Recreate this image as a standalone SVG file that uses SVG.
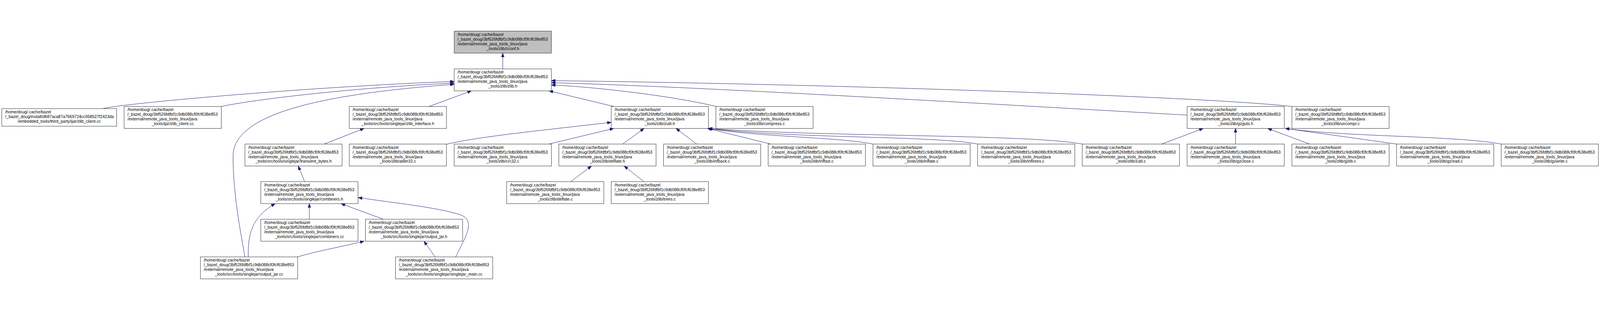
<svg xmlns="http://www.w3.org/2000/svg" width="5053" height="793" viewBox="0 0 5053 793">
<defs>
<marker id="ah" markerUnits="userSpaceOnUse" markerWidth="16" markerHeight="12" refX="13" refY="5" orient="auto">
<path d="M0.5,0.5 L13,5 L0.5,9.5 z" fill="#191970" stroke="#191970" stroke-width="1"/>
</marker>
</defs>
<style>
:root{width:100vw;height:100vh;overflow:hidden}
.e{fill:none;stroke:#191970;stroke-width:1.2;marker-end:url(#ah)}
.n rect{fill:#ffffff;stroke:#000000;stroke-width:1}
.n.root rect{fill:#bfbfbf}
.n text{font-family:"Liberation Sans",Arial,Helvetica,sans-serif;font-size:13px;fill:#000000}
.n text.c{text-anchor:middle}
</style>
<rect x="0" y="0" width="5053" height="793" fill="#ffffff"/>
<g id="edges">
<path class="e" d="M1587.8,124.7 L1587.8,75"/>
<path class="e" d="M324,250.2 C400,232 1000,180 1434.5,164.4"/>
<path class="e" d="M699,243.3 C800,222 1100,185 1434.5,169.4"/>
<path class="e" d="M773.5,718 C760,640 736,520 736,400 C736,270 1000,205 1434.5,173.5"/>
<path class="e" d="M1355,243.3 L1489,194"/>
<path class="e" d="M1938.5,243.3 L1733.6,194"/>
<path class="e" d="M2262,243.3 C2100,205 1850,180 1741,175.5"/>
<path class="e" d="M3749,270.6 C3200,240 2200,180 1741,168.4"/>
<path class="e" d="M4080,243.3 C3800,212 2600,172 1741,161.9"/>
<path class="e" d="M1024,362 L1150,312.6"/>
<path class="e" d="M962,480.7 L942,431.3"/>
<path class="e" d="M784,718 C782,640 800,590 869,550"/>
<path class="e" d="M977,599.3 L977,550"/>
<path class="e" d="M1211,599.3 L1077,550"/>
<path class="e" d="M1438.7,718 C1480,640 1500,600 1450,584 C1380,562 1250,548 1131,531"/>
<path class="e" d="M939.6,718 C1000,700 1060,690 1150,668.6"/>
<path class="e" d="M1374,718 L1339,668.6"/>
<path class="e" d="M1410,362.7 C1500,340 1700,320 1930.4,293.4"/>
<path class="e" d="M1733.6,362 L1938.5,312.6"/>
<path class="e" d="M1966.8,362 L2034,312.6"/>
<path class="e" d="M2200,362 L2135,312.6"/>
<path class="e" d="M2434,362 L2234,312.6"/>
<path class="e" d="M2757,362 C2650,340 2400,340 2237,312.6"/>
<path class="e" d="M3088,362 C2950,335 2500,345 2237,312.6"/>
<path class="e" d="M3418,362 C3250,330 2600,340 2237,312.6"/>
<path class="e" d="M3669,362 L3800,312.6"/>
<path class="e" d="M3902,362 L3902,312.6"/>
<path class="e" d="M4136,362 L4003.4,312.6"/>
<path class="e" d="M4410.6,362 L4059,312.6"/>
<path class="e" d="M4741,362 C4600,335 4250,340 4059,312.6"/>
<path class="e" d="M1802.4,480.7 L1868,431.3"/>
<path class="e" d="M2034,480.7 L1971,431.3"/>
</g>
<g id="n_zconf" class="n root"><rect x="1434.5" y="5.7" width="307" height="69.3"/><text x="1445" y="20.7">/home/doug/.cache/bazel</text><text x="1445" y="35.4">/_bazel_doug/3bf526fdfbf1c9db088cf0fcf638e853</text><text x="1445" y="50.1">/external/remote_java_tools_linux/java</text><text class="c" x="1588" y="64.8">_tools/zlib/zconf.h</text></g>
<g id="n_zlib_h" class="n"><rect x="1434.5" y="124.7" width="307" height="69.3"/><text x="1445" y="139.7">/home/doug/.cache/bazel</text><text x="1445" y="154.4">/_bazel_doug/3bf526fdfbf1c9db088cf0fcf638e853</text><text x="1445" y="169.1">/external/remote_java_tools_linux/java</text><text class="c" x="1588" y="183.8">_tools/zlib/zlib.h</text></g>
<g id="n_install_zlib_client" class="n"><rect x="5.7" y="250.2" width="362.8" height="55.5"/><text x="16.2" y="265.3">/home/doug/.cache/bazel</text><text x="16.2" y="280">/_bazel_doug/install/d687aca87a7669724cc958527f2423da</text><text class="c" x="187.1" y="294.7">/embedded_tools/third_party/ijar/zlib_client.cc</text></g>
<g id="n_ijar_zlib_client" class="n"><rect x="392" y="243.3" width="307" height="69.3"/><text x="402.5" y="258.3">/home/doug/.cache/bazel</text><text x="402.5" y="273">/_bazel_doug/3bf526fdfbf1c9db088cf0fcf638e853</text><text x="402.5" y="287.7">/external/remote_java_tools_linux/java</text><text class="c" x="545.5" y="302.4">_tools/ijar/zlib_client.cc</text></g>
<g id="n_zlib_interface" class="n"><rect x="1103" y="243.3" width="307" height="69.3"/><text x="1113.5" y="258.3">/home/doug/.cache/bazel</text><text x="1113.5" y="273">/_bazel_doug/3bf526fdfbf1c9db088cf0fcf638e853</text><text x="1113.5" y="287.7">/external/remote_java_tools_linux/java</text><text class="c" x="1256.5" y="302.4">_tools/src/tools/singlejar/zlib_interface.h</text></g>
<g id="n_zutil_h" class="n"><rect x="1930.4" y="243.3" width="307" height="69.3"/><text x="1940.9" y="258.3">/home/doug/.cache/bazel</text><text x="1940.9" y="273">/_bazel_doug/3bf526fdfbf1c9db088cf0fcf638e853</text><text x="1940.9" y="287.7">/external/remote_java_tools_linux/java</text><text class="c" x="2083.9" y="302.4">_tools/zlib/zutil.h</text></g>
<g id="n_compress" class="n"><rect x="2261" y="243.3" width="307" height="69.3"/><text x="2271.5" y="258.3">/home/doug/.cache/bazel</text><text x="2271.5" y="273">/_bazel_doug/3bf526fdfbf1c9db088cf0fcf638e853</text><text x="2271.5" y="287.7">/external/remote_java_tools_linux/java</text><text class="c" x="2414.5" y="302.4">_tools/zlib/compress.c</text></g>
<g id="n_gzguts" class="n"><rect x="3749" y="243.3" width="307" height="69.3"/><text x="3759.5" y="258.3">/home/doug/.cache/bazel</text><text x="3759.5" y="273">/_bazel_doug/3bf526fdfbf1c9db088cf0fcf638e853</text><text x="3759.5" y="287.7">/external/remote_java_tools_linux/java</text><text class="c" x="3902.5" y="302.4">_tools/zlib/gzguts.h</text></g>
<g id="n_uncompr" class="n"><rect x="4080" y="243.3" width="307" height="69.3"/><text x="4090.5" y="258.3">/home/doug/.cache/bazel</text><text x="4090.5" y="273">/_bazel_doug/3bf526fdfbf1c9db088cf0fcf638e853</text><text x="4090.5" y="287.7">/external/remote_java_tools_linux/java</text><text class="c" x="4233.5" y="302.4">_tools/zlib/uncompr.c</text></g>
<g id="n_transient_bytes" class="n"><rect x="773.5" y="362" width="307" height="69.3"/><text x="784" y="377">/home/doug/.cache/bazel</text><text x="784" y="391.7">/_bazel_doug/3bf526fdfbf1c9db088cf0fcf638e853</text><text x="784" y="406.4">/external/remote_java_tools_linux/java</text><text class="c" x="927" y="421.1">_tools/src/tools/singlejar/transient_bytes.h</text></g>
<g id="n_adler32" class="n"><rect x="1103" y="362" width="307" height="69.3"/><text x="1113.5" y="377">/home/doug/.cache/bazel</text><text x="1113.5" y="391.7">/_bazel_doug/3bf526fdfbf1c9db088cf0fcf638e853</text><text x="1113.5" y="406.4">/external/remote_java_tools_linux/java</text><text class="c" x="1256.5" y="421.1">_tools/zlib/adler32.c</text></g>
<g id="n_crc32" class="n"><rect x="1434.5" y="362" width="307" height="69.3"/><text x="1445" y="377">/home/doug/.cache/bazel</text><text x="1445" y="391.7">/_bazel_doug/3bf526fdfbf1c9db088cf0fcf638e853</text><text x="1445" y="406.4">/external/remote_java_tools_linux/java</text><text class="c" x="1588" y="421.1">_tools/zlib/crc32.c</text></g>
<g id="n_deflate_h" class="n"><rect x="1765" y="362" width="307" height="69.3"/><text x="1775.5" y="377">/home/doug/.cache/bazel</text><text x="1775.5" y="391.7">/_bazel_doug/3bf526fdfbf1c9db088cf0fcf638e853</text><text x="1775.5" y="406.4">/external/remote_java_tools_linux/java</text><text class="c" x="1918.5" y="421.1">_tools/zlib/deflate.h</text></g>
<g id="n_infback" class="n"><rect x="2095.5" y="362" width="307" height="69.3"/><text x="2106" y="377">/home/doug/.cache/bazel</text><text x="2106" y="391.7">/_bazel_doug/3bf526fdfbf1c9db088cf0fcf638e853</text><text x="2106" y="406.4">/external/remote_java_tools_linux/java</text><text class="c" x="2249" y="421.1">_tools/zlib/infback.c</text></g>
<g id="n_inffast" class="n"><rect x="2426" y="362" width="307" height="69.3"/><text x="2436.5" y="377">/home/doug/.cache/bazel</text><text x="2436.5" y="391.7">/_bazel_doug/3bf526fdfbf1c9db088cf0fcf638e853</text><text x="2436.5" y="406.4">/external/remote_java_tools_linux/java</text><text class="c" x="2579.5" y="421.1">_tools/zlib/inffast.c</text></g>
<g id="n_inflate" class="n"><rect x="2757" y="362" width="307" height="69.3"/><text x="2767.5" y="377">/home/doug/.cache/bazel</text><text x="2767.5" y="391.7">/_bazel_doug/3bf526fdfbf1c9db088cf0fcf638e853</text><text x="2767.5" y="406.4">/external/remote_java_tools_linux/java</text><text class="c" x="2910.5" y="421.1">_tools/zlib/inflate.c</text></g>
<g id="n_inftrees" class="n"><rect x="3087.5" y="362" width="307" height="69.3"/><text x="3098" y="377">/home/doug/.cache/bazel</text><text x="3098" y="391.7">/_bazel_doug/3bf526fdfbf1c9db088cf0fcf638e853</text><text x="3098" y="406.4">/external/remote_java_tools_linux/java</text><text class="c" x="3241" y="421.1">_tools/zlib/inftrees.c</text></g>
<g id="n_zutil_c" class="n"><rect x="3418" y="362" width="307" height="69.3"/><text x="3428.5" y="377">/home/doug/.cache/bazel</text><text x="3428.5" y="391.7">/_bazel_doug/3bf526fdfbf1c9db088cf0fcf638e853</text><text x="3428.5" y="406.4">/external/remote_java_tools_linux/java</text><text class="c" x="3571.5" y="421.1">_tools/zlib/zutil.c</text></g>
<g id="n_gzclose" class="n"><rect x="3749" y="362" width="307" height="69.3"/><text x="3759.5" y="377">/home/doug/.cache/bazel</text><text x="3759.5" y="391.7">/_bazel_doug/3bf526fdfbf1c9db088cf0fcf638e853</text><text x="3759.5" y="406.4">/external/remote_java_tools_linux/java</text><text class="c" x="3902.5" y="421.1">_tools/zlib/gzclose.c</text></g>
<g id="n_gzlib" class="n"><rect x="4080" y="362" width="307" height="69.3"/><text x="4090.5" y="377">/home/doug/.cache/bazel</text><text x="4090.5" y="391.7">/_bazel_doug/3bf526fdfbf1c9db088cf0fcf638e853</text><text x="4090.5" y="406.4">/external/remote_java_tools_linux/java</text><text class="c" x="4233.5" y="421.1">_tools/zlib/gzlib.c</text></g>
<g id="n_gzread" class="n"><rect x="4410.5" y="362" width="307" height="69.3"/><text x="4421" y="377">/home/doug/.cache/bazel</text><text x="4421" y="391.7">/_bazel_doug/3bf526fdfbf1c9db088cf0fcf638e853</text><text x="4421" y="406.4">/external/remote_java_tools_linux/java</text><text class="c" x="4564" y="421.1">_tools/zlib/gzread.c</text></g>
<g id="n_gzwrite" class="n"><rect x="4741" y="362" width="307" height="69.3"/><text x="4751.5" y="377">/home/doug/.cache/bazel</text><text x="4751.5" y="391.7">/_bazel_doug/3bf526fdfbf1c9db088cf0fcf638e853</text><text x="4751.5" y="406.4">/external/remote_java_tools_linux/java</text><text class="c" x="4894.5" y="421.1">_tools/zlib/gzwrite.c</text></g>
<g id="n_combiners_h" class="n"><rect x="823.7" y="480.7" width="307" height="69.3"/><text x="834.2" y="495.7">/home/doug/.cache/bazel</text><text x="834.2" y="510.4">/_bazel_doug/3bf526fdfbf1c9db088cf0fcf638e853</text><text x="834.2" y="525.1">/external/remote_java_tools_linux/java</text><text class="c" x="977.2" y="539.8">_tools/src/tools/singlejar/combiners.h</text></g>
<g id="n_deflate_c" class="n"><rect x="1600" y="480.7" width="307" height="69.3"/><text x="1610.5" y="495.7">/home/doug/.cache/bazel</text><text x="1610.5" y="510.4">/_bazel_doug/3bf526fdfbf1c9db088cf0fcf638e853</text><text x="1610.5" y="525.1">/external/remote_java_tools_linux/java</text><text class="c" x="1753.5" y="539.8">_tools/zlib/deflate.c</text></g>
<g id="n_trees" class="n"><rect x="1930.4" y="480.7" width="307" height="69.3"/><text x="1940.9" y="495.7">/home/doug/.cache/bazel</text><text x="1940.9" y="510.4">/_bazel_doug/3bf526fdfbf1c9db088cf0fcf638e853</text><text x="1940.9" y="525.1">/external/remote_java_tools_linux/java</text><text class="c" x="2083.9" y="539.8">_tools/zlib/trees.c</text></g>
<g id="n_combiners_cc" class="n"><rect x="823.7" y="599.3" width="307" height="69.3"/><text x="834.2" y="614.3">/home/doug/.cache/bazel</text><text x="834.2" y="629">/_bazel_doug/3bf526fdfbf1c9db088cf0fcf638e853</text><text x="834.2" y="643.7">/external/remote_java_tools_linux/java</text><text class="c" x="977.2" y="658.4">_tools/src/tools/singlejar/combiners.cc</text></g>
<g id="n_output_jar_h" class="n"><rect x="1154" y="599.3" width="307" height="69.3"/><text x="1164.5" y="614.3">/home/doug/.cache/bazel</text><text x="1164.5" y="629">/_bazel_doug/3bf526fdfbf1c9db088cf0fcf638e853</text><text x="1164.5" y="643.7">/external/remote_java_tools_linux/java</text><text class="c" x="1307.5" y="658.4">_tools/src/tools/singlejar/output_jar.h</text></g>
<g id="n_output_jar_cc" class="n"><rect x="633" y="718" width="307" height="69.3"/><text x="643.5" y="733">/home/doug/.cache/bazel</text><text x="643.5" y="747.7">/_bazel_doug/3bf526fdfbf1c9db088cf0fcf638e853</text><text x="643.5" y="762.4">/external/remote_java_tools_linux/java</text><text class="c" x="786.5" y="777.1">_tools/src/tools/singlejar/output_jar.cc</text></g>
<g id="n_singlejar_main" class="n"><rect x="1249" y="718" width="307" height="69.3"/><text x="1259.5" y="733">/home/doug/.cache/bazel</text><text x="1259.5" y="747.7">/_bazel_doug/3bf526fdfbf1c9db088cf0fcf638e853</text><text x="1259.5" y="762.4">/external/remote_java_tools_linux/java</text><text class="c" x="1402.5" y="777.1">_tools/src/tools/singlejar/singlejar_main.cc</text></g>
</svg>
